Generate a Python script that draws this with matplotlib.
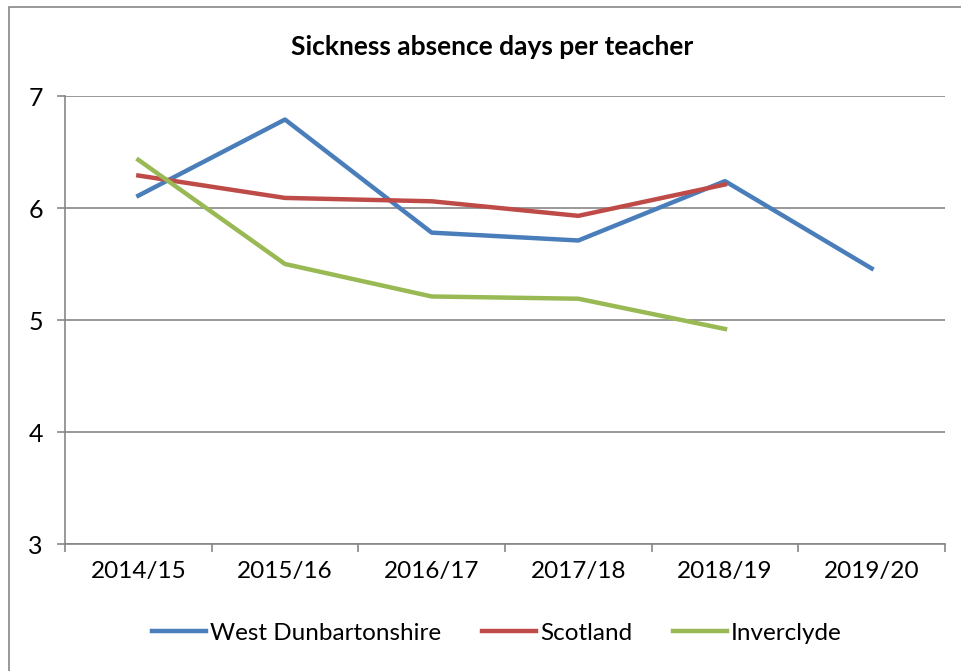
import matplotlib.pyplot as plt
from matplotlib.patches import Rectangle

# Data
years = ['2014/15', '2015/16', '2016/17', '2017/18', '2018/19', '2019/20']
west_dunbartonshire = [6.11, 6.79, 5.78, 5.71, 6.24, 5.46]
scotland = [6.29, 6.09, 6.06, 5.93, 6.21]
inverclyde = [6.43, 5.50, 5.21, 5.19, 4.92]

plt.rcParams['font.family'] = ['Lato', 'DejaVu Sans']

fig = plt.figure(figsize=(9.61, 6.71), dpi=100)
ax = fig.add_axes([65 / 961, 1 - 544 / 671, 880 / 961, 448 / 671])

# Outer chart border (Excel style)
fig.patches.append(Rectangle((9 / 961, -0.1), 1.2, 1 - 7 / 671 + 0.1,
                             transform=fig.transFigure, fill=False,
                             edgecolor='#868686', linewidth=1.2))

x = list(range(len(years)))
ax.plot(x, west_dunbartonshire, color='#4A7EBB', lw=3.2, label='West Dunbartonshire')
ax.plot(x[:len(scotland)], scotland, color='#BE4B48', lw=3.2, label='Scotland')
ax.plot(x[:len(inverclyde)], inverclyde, color='#98B954', lw=3.2, label='Inverclyde')

ax.set_xlim(-0.5, len(years) - 0.5)
ax.set_ylim(3, 7)
ax.set_yticks([3, 4, 5, 6, 7])
ax.set_xticks(x)
ax.set_xticklabels(years)
ax.set_xticks([i - 0.5 for i in range(len(years) + 1)], minor=True)
ax.tick_params(axis='x', which='major', length=0, pad=12, labelsize=17.5)
ax.tick_params(axis='x', which='minor', length=6, width=1.2, color='#868686')
ax.tick_params(axis='y', length=6, width=1.2, color='#868686', pad=10, labelsize=18)

ax.yaxis.grid(True, color='#868686', linewidth=1.2)
ax.set_axisbelow(True)
for side in ['top', 'right']:
    ax.spines[side].set_visible(False)
for side in ['left', 'bottom']:
    ax.spines[side].set_color('#868686')
    ax.spines[side].set_linewidth(1.2)

fig.text(492 / 961, 1 - 47 / 671, 'Sickness absence days per teacher',
         ha='center', va='center', fontsize=19, fontweight='bold')

fig.legend(loc='center', bbox_to_anchor=(497 / 961, 1 - 633 / 671), ncol=3,
           frameon=False, fontsize=17.5, handlelength=2.2, handletextpad=0.17,
           columnspacing=1.7)

plt.savefig('out.png', dpi=100)
